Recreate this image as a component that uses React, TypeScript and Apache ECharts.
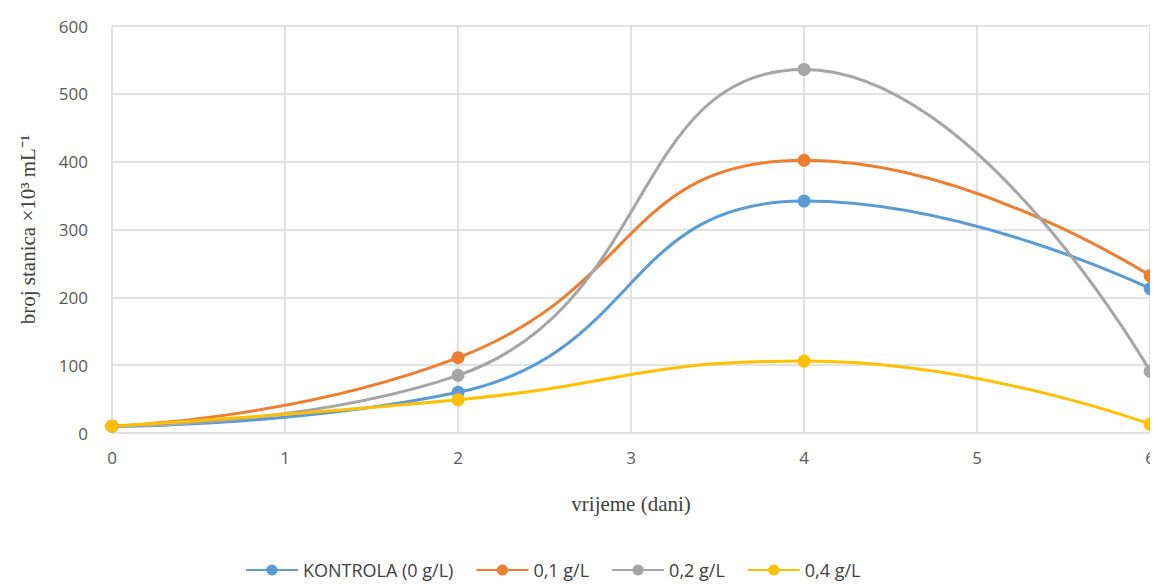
import React, { useEffect, useRef } from 'react';
import * as echarts from 'echarts';

const days = [0, 2, 4, 6];
const kontrola = [10, 60, 342, 213];
const g01 = [10, 111, 402, 232];
const g02 = [10, 85, 536, 91];
const g04 = [10, 49, 106, 13];

const seriesDefs = [
  { name: 'KONTROLA (0 g/L)', data: kontrola, color: '#5B9BD5' },
  { name: '0,1 g/L', data: g01, color: '#ED7D31' },
  { name: '0,2 g/L', data: g02, color: '#A5A5A5' },
  { name: '0,4 g/L', data: g04, color: '#FFC000' },
];

const App: React.FC = () => {
  const ref = useRef<HTMLDivElement>(null);

  useEffect(() => {
    if (!ref.current) return;
    const chart = echarts.init(ref.current, undefined, { renderer: 'svg' });
    const tickFont = { fontFamily: 'Open Sans', fontSize: 17, color: '#595959' };
    chart.setOption({
      animation: false,
      grid: { left: 104, right: 0, top: 18, bottom: 151 },
      legend: {
        bottom: 0,
        left: 232,
        itemWidth: 52,
        itemHeight: 14,
        itemGap: 22,
        textStyle: { fontFamily: 'Open Sans', fontSize: 18, color: '#404040' },
        data: seriesDefs.map((s) => s.name),
      },
      xAxis: {
        type: 'value',
        min: 0,
        max: 6,
        interval: 1,
        name: 'vrijeme (dani)',
        nameLocation: 'middle',
        nameGap: 60,
        nameTextStyle: { fontFamily: 'Liberation Serif', fontSize: 21, color: '#404040' },
        axisLine: { show: false },
        axisTick: { show: false },
        axisLabel: { ...tickFont, margin: 16 },
        splitLine: { lineStyle: { color: '#D9D9D9', width: 1.5 } },
      },
      yAxis: {
        type: 'value',
        min: 0,
        max: 600,
        interval: 100,
        name: 'broj stanica ×10³ mL⁻¹',
        nameLocation: 'middle',
        nameGap: 74,
        nameTextStyle: { fontFamily: 'Liberation Serif', fontSize: 21, color: '#404040' },
        axisLine: { show: false },
        axisTick: { show: false },
        axisLabel: { ...tickFont, margin: 24 },
        splitLine: { lineStyle: { color: '#D9D9D9', width: 1.5 } },
      },
      series: seriesDefs.map((s) => ({
        name: s.name,
        type: 'line',
        smooth: 0.5,
        data: days.map((d, i) => [d, s.data[i]]),
        symbol: 'circle',
        symbolSize: 13,
        color: s.color,
        lineStyle: { color: s.color, width: 3 },
        itemStyle: { color: s.color },
      })),
    });
    return () => chart.dispose();
  }, []);

  return <div ref={ref} style={{ width: 1150, height: 576 }} />;
};

export default App;
